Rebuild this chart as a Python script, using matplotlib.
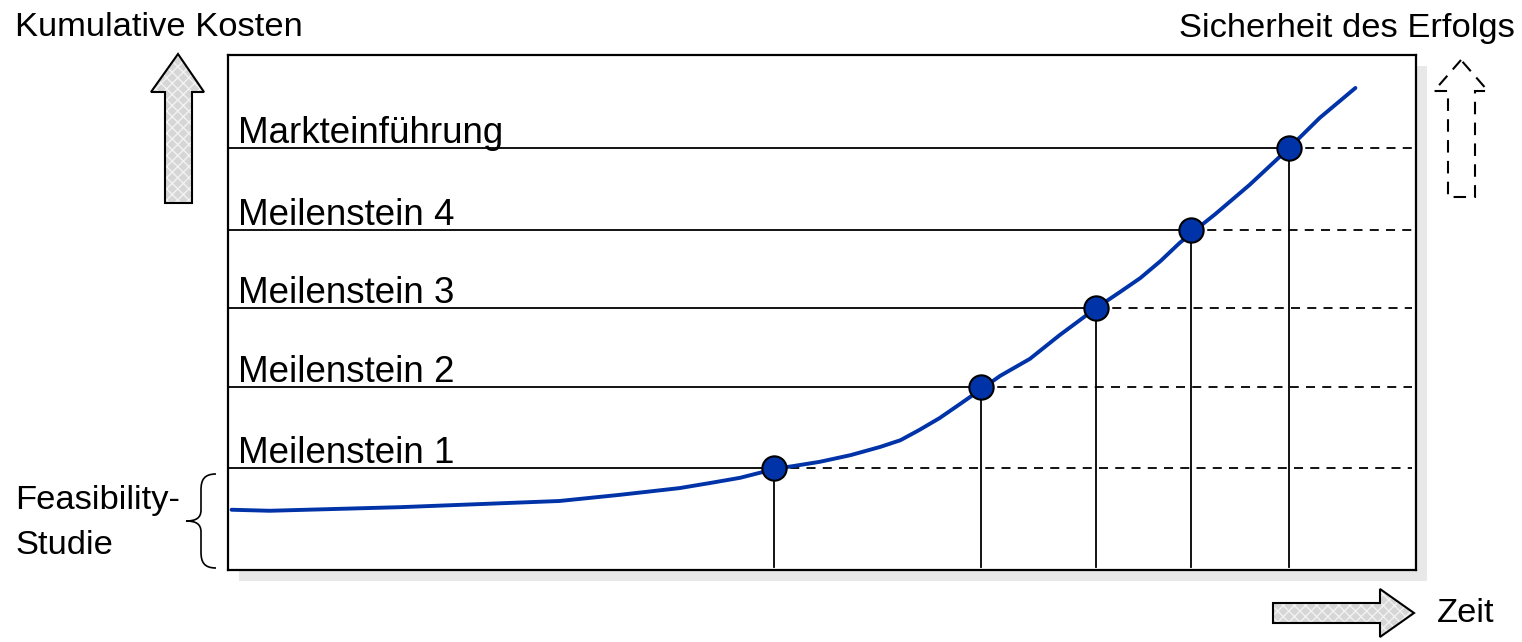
import matplotlib.pyplot as plt
from matplotlib.patches import Polygon, Rectangle, PathPatch
from matplotlib.path import Path

plt.rcParams['font.family'] = ['Liberation Sans', 'DejaVu Sans']

# milestones: time (0-100) and cumulative cost (0-100)
milestones = ['Meilenstein 1', 'Meilenstein 2', 'Meilenstein 3', 'Meilenstein 4', 'Markteinführung']
ms_time = [46.0, 63.4, 73.1, 81.1, 89.3]
ms_cost = [19.8, 35.5, 50.9, 66.0, 81.9]

# cost curve
curve_time = [0.3, 3.5, 14.5, 27.9, 33.0, 38.0, 40.6, 43.1, 46.0, 49.8, 52.4, 54.9,
              56.6, 58.2, 59.9, 61.6, 63.4, 65.0, 67.5, 70.0, 73.1, 75.1, 76.8, 78.5,
              80.1, 81.2, 83.1, 86.0, 89.3, 91.9, 94.9]
curve_cost = [11.7, 11.5, 12.2, 13.4, 14.6, 15.9, 16.9, 17.9, 19.6, 21.0, 22.3, 23.9,
              25.2, 27.2, 29.5, 32.2, 35.1, 37.7, 41.0, 45.6, 50.9, 54.0, 56.7, 60.0,
              63.5, 65.6, 69.1, 74.8, 81.9, 87.8, 93.6]

blue = '#0033a8'
W, H = 1522, 642
fig = plt.figure(figsize=(W / 100, H / 100), dpi=100)

# decoration layer in pixel coordinates
deco = fig.add_axes([0, 0, 1, 1], zorder=0)
deco.set_xlim(0, W)
deco.set_ylim(H, 0)
deco.axis('off')

# drop shadow behind the plot box
deco.add_patch(Rectangle((239, 66), 1188, 515, facecolor='#e8e8e8', edgecolor='none'))

def hatched_arrow(pts):
    deco.add_patch(Polygon(pts, closed=True, facecolor='#d6d6d6', edgecolor='#f2f2f2',
                           hatch='xxx', lw=0))
    deco.add_patch(Polygon(pts, closed=True, facecolor='none', edgecolor='black', lw=1.5))

# cost arrow (up)
hatched_arrow([(178, 54), (151, 92), (165, 92), (165, 203), (192, 203), (192, 92), (204, 92)])
# time arrow (right)
hatched_arrow([(1273, 603), (1380, 603), (1380, 589), (1414, 613), (1380, 637), (1380, 623), (1273, 623)])
# certainty arrow (dashed outline)
deco.add_patch(Polygon([(1461, 60), (1434, 91), (1448, 91), (1448, 197), (1475, 197),
                        (1475, 91), (1488, 91)], closed=True, facecolor='none',
                       edgecolor='black', lw=1.5, linestyle=(0, (6, 4))))

# brace for the feasibility study
verts = [(216, 474), (204, 474), (201, 480), (201, 490),
         (201, 510),
         (201, 518), (196, 521), (186, 521),
         (196, 521), (201, 524), (201, 532),
         (201, 552),
         (201, 562), (204, 568), (216, 568)]
codes = [Path.MOVETO, Path.CURVE4, Path.CURVE4, Path.CURVE4,
         Path.LINETO,
         Path.CURVE4, Path.CURVE4, Path.CURVE4,
         Path.CURVE4, Path.CURVE4, Path.CURVE4,
         Path.LINETO,
         Path.CURVE4, Path.CURVE4, Path.CURVE4]
deco.add_patch(PathPatch(Path(verts, codes), facecolor='none', edgecolor='black', lw=1.2))

deco.text(15, 28, 'Kumulative Kosten', fontsize=24.8, ha='left', va='center')
deco.text(1515, 28, 'Sicherheit des Erfolgs', fontsize=24.8, ha='right', va='center')
deco.text(1437, 613, 'Zeit', fontsize=24.8, ha='left', va='center')
deco.text(15, 500, 'Feasibility-', fontsize=24.8, ha='left', va='center')
deco.text(15, 546, 'Studie', fontsize=24.8, ha='left', va='center')

# main plot box
ax = fig.add_axes([228 / W, (H - 570) / H, 1188 / W, 515 / H], zorder=2)
ax.set_xlim(0, 100)
ax.set_ylim(0, 100)
ax.set_xticks([])
ax.set_yticks([])
for s in ax.spines.values():
    s.set_linewidth(1.6)

for name, t, c in zip(milestones, ms_time, ms_cost):
    ax.plot([0, t], [c, c], color='black', lw=1.3, zorder=2)
    ax.plot([t, 99.7], [c, c], color='black', lw=1.3, linestyle=(0, (5, 4)), zorder=2)
    ax.plot([t, t], [0.5, c], color='black', lw=1.3, zorder=2)
    ax.text(0.84, c + 1.0, name, fontsize=26.5, ha='left', va='baseline')

ax.plot(curve_time, curve_cost, color=blue, lw=2.8, solid_joinstyle='round',
        solid_capstyle='round', zorder=3)
ax.plot(ms_time, ms_cost, 'o', color=blue, markersize=17.5, markeredgecolor='black',
        markeredgewidth=1.5, zorder=4)

fig.savefig('out.png', dpi=100)
